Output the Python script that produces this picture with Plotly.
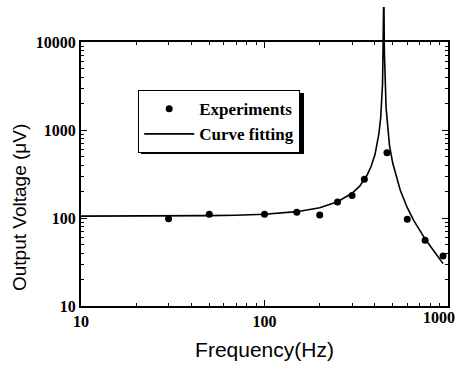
import plotly.graph_objects as go

# Experimental points (Hz, µV)
exp_freq = [30, 50, 100, 150, 200, 250, 300, 350, 465, 600, 750, 940]
exp_volt = [98, 110, 110, 116, 108, 152, 180, 275, 550, 97, 56, 37]

# Fitted curve (Hz, µV)
fit_freq = [10, 20, 30, 50, 70, 100, 150, 200, 250, 300, 330, 360, 380, 400, 420,
            430, 440, 445, 447, 450, 460, 480, 500, 550, 600, 650, 700, 750, 800,
            850, 900, 940]
fit_volt = [105, 105, 105.5, 106.3, 107.6, 110.5, 118, 131, 153, 191, 230, 300, 380,
            526, 905, 1400, 3400, 11700, 40000, 7800, 1760, 665, 418, 205, 131, 94,
            72, 58, 48, 40.5, 34.5, 30.3]

x_ticks = [10, 100, 1000]
x_labels = ["10", "100", ""]
x_last_tick = [1000]
x_last_label = ["1000"]
y_ticks = [10, 100, 1000, 10000]
y_labels = ["10", "100", "1000", "10000"]

W, H = 461, 365
L, R, T, B = 81, 13, 7, 59
frame_top_px = 42
plot_h = H - T - B
px_w = W - L - R
frame_frac = (H - B - frame_top_px) / plot_h
decades = 3
y_full_top = 1 + decades / frame_frac

fig = go.Figure()
fig.add_trace(go.Scatter(
    x=exp_freq, y=exp_volt, mode="markers", name="Experiments",
    marker=dict(color="black", size=7), xaxis="x2", yaxis="y2"))
fig.add_trace(go.Scatter(
    x=fit_freq, y=fit_volt, mode="lines", name="Curve fitting",
    line=dict(color="black", width=1.6), xaxis="x", yaxis="y"))

tickfont = dict(family="Liberation Serif", size=16, color="black", weight="bold")
frame = dict(ticks="inside", ticklen=6, tickwidth=1.2, tickcolor="black",
             showline=True, linecolor="black", linewidth=2, mirror="ticks",
             showgrid=False, zeroline=False, tickfont=tickfont, automargin=False,
             ticklabeloverflow="allow",
             minor=dict(ticks="inside", ticklen=3, tickcolor="black",
                        dtick="D1", showgrid=False))
title_font = dict(family="Liberation Sans", size=21, color="black")

fig.update_layout(
    template="none",
    width=W, height=H,
    margin=dict(l=L, r=R, t=T, b=B, autoexpand=False),
    paper_bgcolor="white", plot_bgcolor="rgba(0,0,0,0)",
    showlegend=True,
    legend=dict(x=(138 - L) / px_w, y=(H - B - 90) / plot_h,
                xanchor="left", yanchor="top",
                bgcolor="white", bordercolor="black", borderwidth=1.2,
                font=dict(family="Liberation Serif", size=17, color="black", weight="bold"),
                itemwidth=50, tracegroupgap=0),
    # data axes (full height so the resonance spike can rise above the frame);
    # the x one only carries the last tick label, nudged inward as in the original
    xaxis=dict(type="log", range=[1, 3], domain=[0, 1], anchor="y",
               showline=False, showgrid=False, zeroline=False, automargin=False,
               ticks="", tickvals=x_last_tick, ticktext=x_last_label,
               tickfont=tickfont, ticklabelshift=-9, ticklabeloverflow="allow"),
    yaxis=dict(type="log", range=[1, y_full_top], domain=[0, 1], anchor="x",
               visible=False, showgrid=False, zeroline=False, automargin=False),
    # frame axes
    xaxis2=dict(type="log", range=[1, 3], domain=[0, 1], anchor="y2",
                tickvals=x_ticks, ticktext=x_labels,
                title=dict(text="Frequency(Hz)", font=title_font, standoff=13),
                **frame),
    yaxis2=dict(type="log", range=[1, 4], domain=[0, frame_frac], anchor="x2",
                tickvals=y_ticks, ticktext=y_labels,
                **frame),
)

fig.add_annotation(text="Output Voltage (μV)", textangle=-90, showarrow=False,
                   xref="paper", yref="paper",
                   x=(19 - L) / px_w, y=(H - B - 208) / plot_h,
                   xanchor="center", yanchor="middle",
                   font=dict(family="Liberation Sans", size=19, color="black"))

# legend shadow
fig.add_shape(type="rect", xref="paper", yref="paper",
              x0=(141 - L) / px_w, x1=(304 - L) / px_w,
              y0=(H - B - 154) / plot_h, y1=(H - B - 93) / plot_h,
              fillcolor="black", line=dict(width=0), layer="above")

fig.write_html("out.html", config={"displayModeBar": False},
               post_script="document.body.style.margin='0';")
